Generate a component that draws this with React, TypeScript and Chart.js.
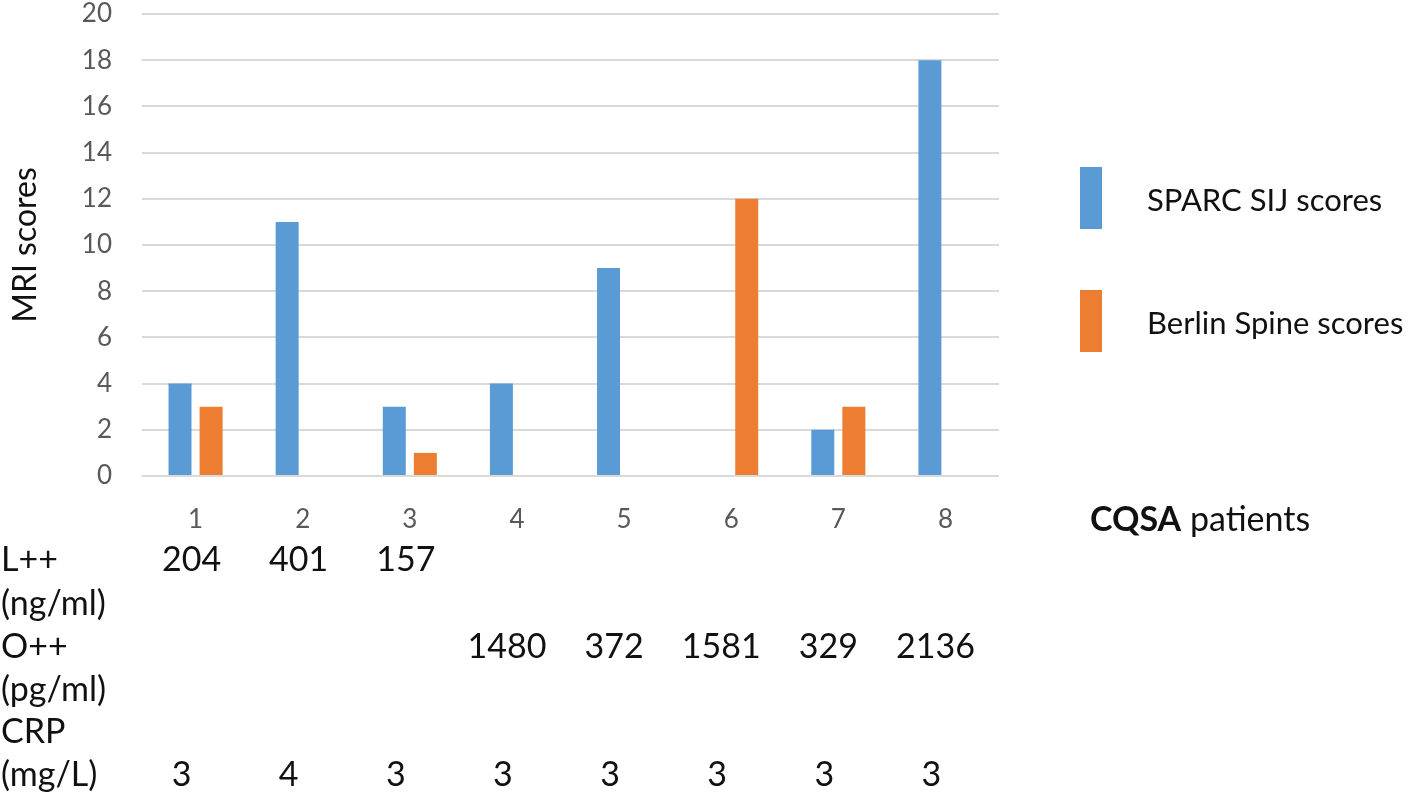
import React, { useEffect, useRef } from 'react';
import { Chart, registerables } from 'chart.js';

Chart.register(...registerables);

// ---------- data ----------
const categories = ['1', '2', '3', '4', '5', '6', '7', '8'];
const sparcScores = [4, 11, 3, 4, 9, 0, 2, 18];
const berlinScores = [3, 0, 1, 0, 0, 12, 3, 0];
const seriesLabels = ['SPARC SIJ scores', 'Berlin Spine scores'];
const yMin = 0;
const yMax = 20;
const yStep = 2;
const rowLabels = ['L++', '(ng/ml)', 'O++', '(pg/ml)', 'CRP', '(mg/L)'];
const lValues = ['204', '401', '157', '', '', '', '', ''];
const oValues = ['', '', '', '1480', '372', '1581', '329', '2136'];
const crpValues = ['3', '4', '3', '3', '3', '3', '3', '3'];
const xTitleBold = 'CQSA';
const xTitleRest = ' patients';
const yTitle = 'MRI scores';

// ---------- style ----------
const FONT = 'Lato';
const BLUE = '#5B9BD5';
const ORANGE = '#ED7D31';
const GRID = '#d9d9d9';
const TICK = '#595959';
const TEXT = '#111111';

const rowY = [560, 604, 647, 690, 732, 775];
const rowValueSets: { row: number; values: string[]; shift: number }[] = [
  { row: 0, values: lValues, shift: -4 },
  { row: 2, values: oValues, shift: -10 },
  { row: 5, values: crpValues, shift: -14 },
];

const tablePlugin = {
  id: 'tablePlugin',
  afterDraw(chart: any) {
    const ctx = chart.ctx;
    const xs = chart.scales.x;
    ctx.save();
    ctx.fillStyle = TEXT;
    ctx.textBaseline = 'middle';
    ctx.font = `34px ${FONT}`;
    ctx.textAlign = 'left';
    rowLabels.forEach((lab, i) => ctx.fillText(lab, 1, rowY[i]));
    ctx.textAlign = 'center';
    rowValueSets.forEach((rs) => {
      rs.values.forEach((v, i) => {
        if (v) ctx.fillText(v, xs.getPixelForValue(i) + rs.shift, rowY[rs.row]);
      });
    });
    // x-axis title
    const tx = chart.chartArea.right + 91;
    const ty = 520;
    ctx.textAlign = 'left';
    ctx.font = `bold 34px ${FONT}`;
    ctx.fillText(xTitleBold, tx, ty);
    const w = ctx.measureText(xTitleBold).width;
    ctx.font = `34px ${FONT}`;
    ctx.fillText(xTitleRest, tx + w, ty);
    ctx.restore();
  },
};

const legendPlugin = {
  id: 'customLegend',
  afterDraw(chart: any) {
    const ctx = chart.ctx;
    const x0 = chart.chartArea.right + 81;
    const tops = [167, 290];
    const h = 62;
    ctx.save();
    chart.data.datasets.forEach((ds: any, i: number) => {
      ctx.fillStyle = ds.backgroundColor;
      ctx.fillRect(x0, tops[i], 22, h);
      ctx.fillStyle = TEXT;
      ctx.font = `31px ${FONT}`;
      ctx.textAlign = 'left';
      ctx.textBaseline = 'middle';
      ctx.fillText(ds.label, x0 + 67, tops[i] + h / 2 + 3);
    });
    ctx.restore();
  },
};

export default function App() {
  const ref = useRef<HTMLCanvasElement>(null);
  useEffect(() => {
    if (!ref.current) return;
    const chart = new Chart(ref.current, {
      type: 'bar',
      data: {
        labels: categories,
        datasets: [
          {
            label: seriesLabels[0],
            data: sparcScores,
            backgroundColor: BLUE,
            borderWidth: 0,
            categoryPercentage: 0.58,
            barPercentage: 0.74,
          },
          {
            label: seriesLabels[1],
            data: berlinScores,
            backgroundColor: ORANGE,
            borderWidth: 0,
            categoryPercentage: 0.58,
            barPercentage: 0.74,
          },
        ],
      },
      options: {
        responsive: false,
        animation: false,
        layout: { padding: { left: 0, right: 419, top: 14, bottom: 258 } },
        plugins: {
          legend: { display: false },
          tooltip: { enabled: false },
        },
        scales: {
          x: {
            grid: { display: false, drawTicks: false },
            border: { display: false },
            ticks: {
              color: TICK,
              font: { family: FONT, size: 26 },
              padding: 28,
            },
            afterFit(scale: any) {
              scale.height = 60;
              scale.paddingLeft = 0;
              scale.paddingRight = 0;
            },
          },
          y: {
            min: yMin,
            max: yMax,
            grid: { color: GRID, lineWidth: 2, drawTicks: false },
            border: { display: false },
            ticks: {
              stepSize: yStep,
              color: TICK,
              font: { family: FONT, size: 26 },
              padding: 30,
            },
            title: {
              display: true,
              text: yTitle,
              color: TEXT,
              font: { family: FONT, size: 32 },
              padding: { top: 6, bottom: 0 },
            },
            afterFit(scale: any) {
              scale.width = 142;
              scale.paddingTop = 0;
              scale.paddingBottom = 0;
            },
          },
        },
      },
      plugins: [tablePlugin, legendPlugin],
    });
    return () => chart.destroy();
  }, []);
  return (
    <div style={{ position: 'absolute', left: 0, top: 0, width: 1418, height: 794, background: '#fff' }}>
      <canvas ref={ref} width={1418} height={794} />
    </div>
  );
}
